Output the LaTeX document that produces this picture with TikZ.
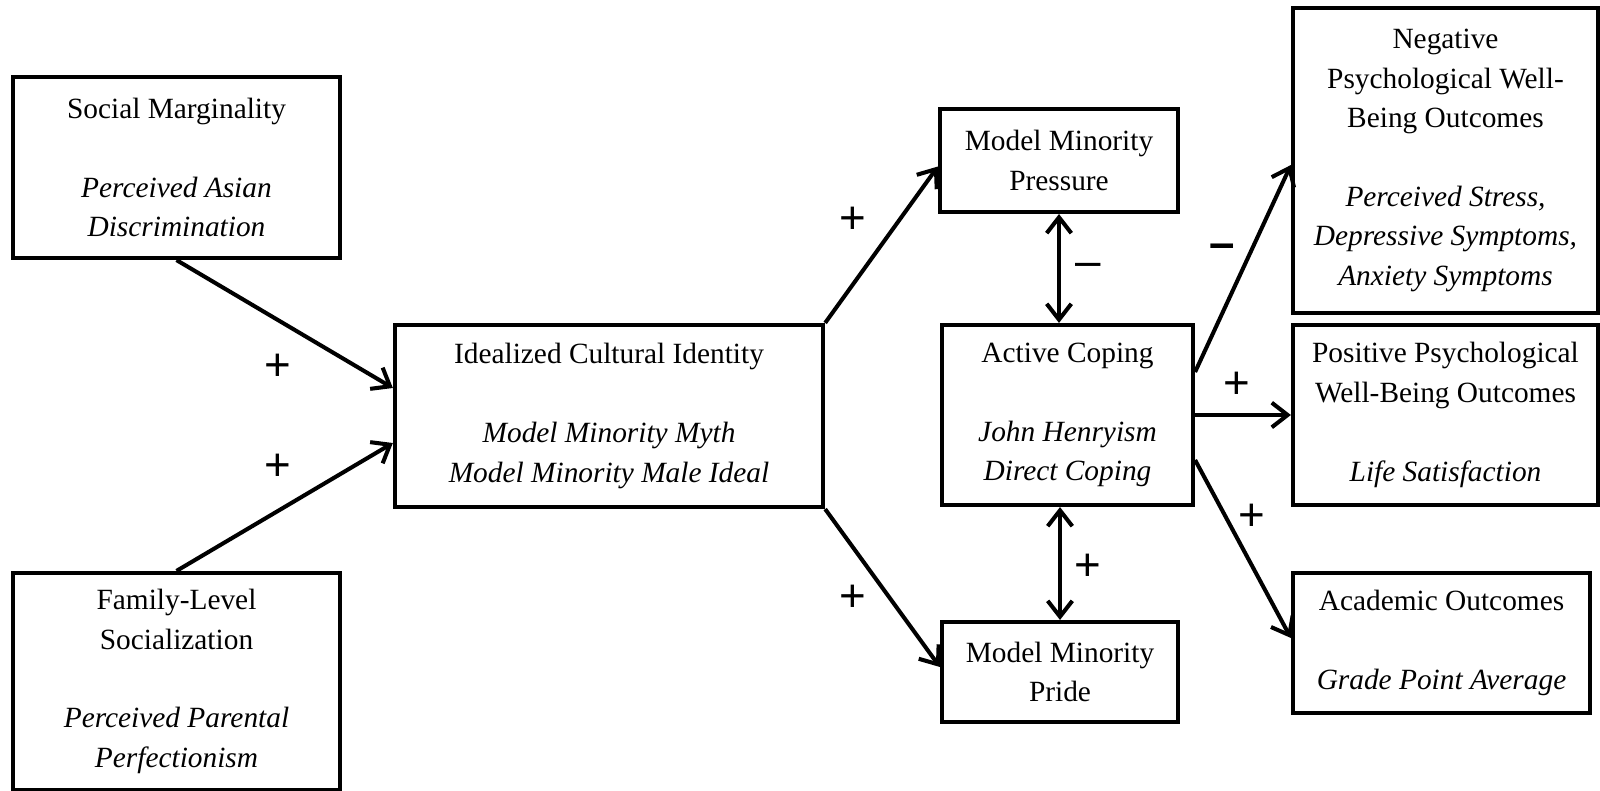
\documentclass[tikz,border=0pt]{standalone}
\usepackage{fontspec}
\setmainfont{Liberation Serif}
\newfontfamily\signfont{Liberation Sans}
\usetikzlibrary{arrows.meta}

\begin{document}
\begin{tikzpicture}[x=0.01cm,y=-0.01cm,
  box/.style={draw,line width=1.15pt,rectangle,inner sep=0pt,align=center,
    font=\fontsize{8.35}{11.2}\selectfont},
  link/.style={line width=1.15pt,-{Straight Barb[length=4.5pt,width=7pt]}},
  dlink/.style={line width=1.15pt,{Straight Barb[length=4.5pt,width=7pt]}-{Straight Barb[length=4.5pt,width=7pt]}},
  sign/.style={font=\signfont\fontsize{13}{13}\selectfont,inner sep=0pt},
  boldsign/.style={font=\signfont\bfseries\fontsize{13}{13}\selectfont,inner sep=0pt}]
\useasboundingbox (0,0) rectangle (1600,791);

% constructs
\node[box,minimum width=3.27cm,minimum height=1.81cm] (soc) at (176.5,167.5)
  {Social Marginality\\[11.2pt]\textit{Perceived Asian}\\\textit{Discrimination}};
\node[box,minimum width=3.27cm,minimum height=2.17cm] (fam) at (176.5,681.5)
  {Family-Level\\Socialization\\[11.2pt]\textit{Perceived Parental}\\\textit{Perfectionism}};
\node[box,minimum width=4.28cm,minimum height=1.82cm] (ideal) at (609,416)
  {Idealized Cultural Identity\\[11.2pt]\textit{Model Minority Myth}\\\textit{Model Minority Male Ideal}};
\node[box,minimum width=2.38cm,minimum height=1.03cm] (press) at (1059,160.5)
  {Model Minority\\Pressure};
\node[box,minimum width=2.51cm,minimum height=1.80cm] (act) at (1067.5,415)
  {Active Coping\\[11.2pt]\textit{John Henryism}\\\textit{Direct Coping}};
\node[box,minimum width=2.36cm,minimum height=1.00cm] (pride) at (1060,672)
  {Model Minority\\Pride};
\node[box,minimum width=3.05cm,minimum height=3.05cm] (neg) at (1445.5,160.5)
  {Negative\\Psychological Well-\\Being Outcomes\\[11.2pt]\textit{Perceived Stress,}\\\textit{Depressive Symptoms,}\\\textit{Anxiety Symptoms}};
\node[box,minimum width=3.05cm,minimum height=1.80cm] (pos) at (1445.5,415)
  {Positive Psychological\\Well-Being Outcomes\\[11.2pt]\textit{Life Satisfaction}};
\node[box,minimum width=2.97cm,minimum height=1.40cm] (acad) at (1441.5,643)
  {Academic Outcomes\\[11.2pt]\textit{Grade Point Average}};

% paths
\draw[link] (soc.south) -- ([yshift=2.8mm]ideal.west);
\draw[link] (fam.north) -- ([yshift=-2.7mm]ideal.west);
\draw[link] (ideal.north east) -- ([yshift=-0.6mm]press.west);
\draw[link] (ideal.south east) -- ([yshift=0.5mm]pride.west);
\draw[dlink] (press.south) -- (press.south |- act.north);
\draw[dlink] (pride.north |- act.south) -- (pride.north);
\draw[link] ([yshift=4.3mm]act.east) -- ([yshift=-0.45mm]neg.west);
\draw[link] (act.east) -- (pos.west);
\draw[link] ([yshift=-4.5mm]act.east) -- ([yshift=0.5mm]acad.west);

% signs of the effects
\node[sign] (s1) at (278,367) {+};
\node[sign] (s2) at (278,467) {+};
\node[sign] (s3) at (853,220) {+};
\node[sign] (s4) at (853,598) {+};
\node[sign] (s5) at (1088,270) {–};
\node[sign] (s6) at (1088,567) {+};
\node[boldsign] (s7) at (1222,251) {–};
\node[sign] (s8) at (1237,385) {+};
\node[sign] (s9) at (1252,517) {+};
\end{tikzpicture}
\end{document}
